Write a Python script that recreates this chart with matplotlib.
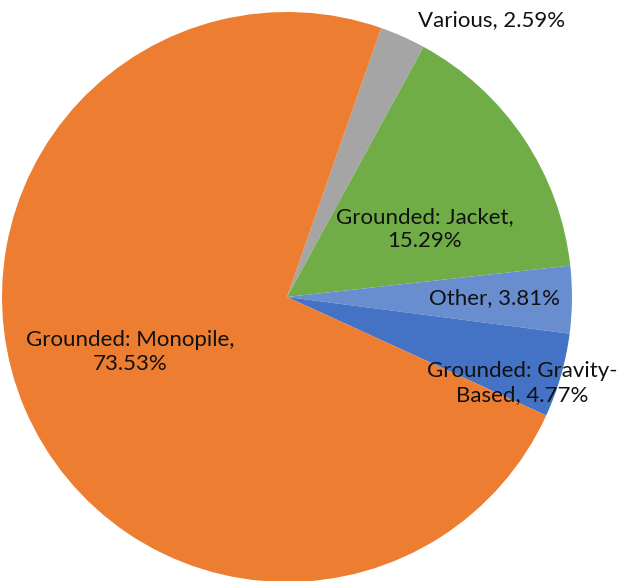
import matplotlib
matplotlib.use("Agg")
import matplotlib.pyplot as plt

categories = ["Various", "Grounded: Jacket", "Other", "Grounded: Gravity-Based", "Grounded: Monopile"]
shares = [2.59, 15.29, 3.81, 4.77, 73.53]
label_texts = ["Various, 2.59%", "Grounded: Jacket,\n15.29%", "Other, 3.81%",
               "Grounded: Gravity-\nBased, 4.77%", "Grounded: Monopile,\n73.53%"]
colors = ["#A5A5A5", "#70AD47", "#698ED0", "#4472C4", "#ED7D31"]

W, H = 617, 581
cx, cy, R = 287, 297, 285

fig = plt.figure(figsize=(W / 100, H / 100), dpi=100)
ax = fig.add_axes([0, 0, 1, 1])
ax.pie(shares, colors=colors, startangle=70.7, counterclock=False,
       radius=1.0, wedgeprops=dict(linewidth=0))
ax.set_xlim(-cx / R, (W - cx) / R)
ax.set_ylim(-(H - cy) / R, cy / R)
ax.set_aspect("auto")
ax.axis("off")

label_px = [(492, 20), (425, 229), (494, 298), (522, 383), (130, 352)]
for txt, (px, py) in zip(label_texts, label_px):
    ax.text((px - cx) / R, (cy - py) / R, txt, ha="center", va="center",
            multialignment="center", fontsize=16, family="Lato",
            color="#111111", linespacing=1.3)

fig.savefig("out.png", dpi=100)
